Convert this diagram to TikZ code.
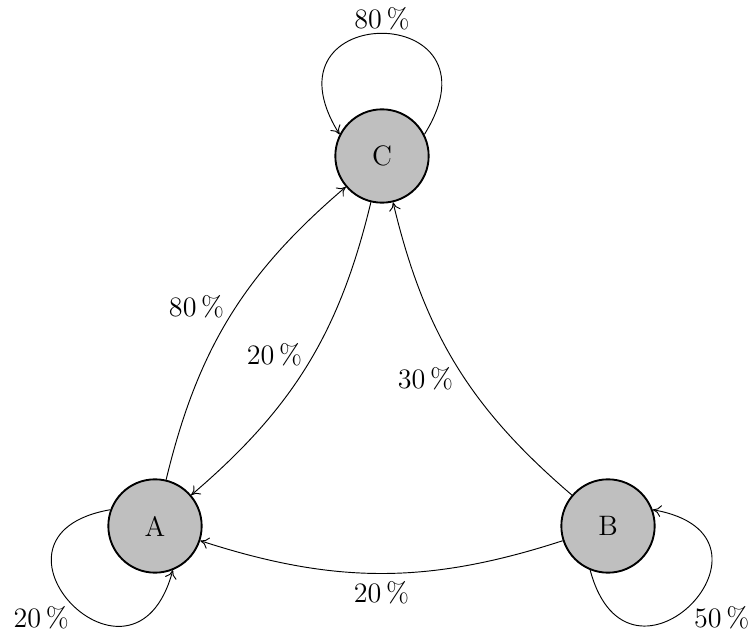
\documentclass[tikz,border=0pt]{standalone}
\usepackage{amsmath,amssymb}
\usepackage{tikz}
\usetikzlibrary{arrows.meta}

\begin{document}
\begin{tikzpicture}[x=0.015cm,y=0.015cm,font=\large,>={To[length=3.6pt,width=5pt]},
  stnode/.style={circle,draw,thick,fill=lightgray,minimum size=1.4cm},
  prob/.style={inner sep=1pt}]
\useasboundingbox (0,0) rectangle (755,641);
\node[stnode] (A) at (155,115) {A};
\node[stnode] (B) at (608,115) {B};
\node[stnode] (C) at (382,485) {C};
\draw[->] (A) to[bend left=18] node[prob,auto,pos=0.485] {80\,\%} (C);
\draw[->] (C) to[bend left=18] node[prob,auto,swap,pos=0.515] {20\,\%} (A);
\draw[->] (B) to[bend left=18] node[prob,auto] {30\,\%} (C);
\draw[->] (B) to[bend left=18] node[prob,below=2.4pt] {20\,\%} (A);
\draw[->] (C.27) to[out=58,in=122,looseness=4.8] node[prob,above] {80\,\%} (C.153);
\draw[->] (A.160) to[out=190,in=255,looseness=4.4] node[prob,below left] {20\,\%} (A.292);
\draw[->] (B.248) to[out=285,in=350,looseness=4.4] node[prob,below right] {50\,\%} (B.20);
\end{tikzpicture}
\end{document}
